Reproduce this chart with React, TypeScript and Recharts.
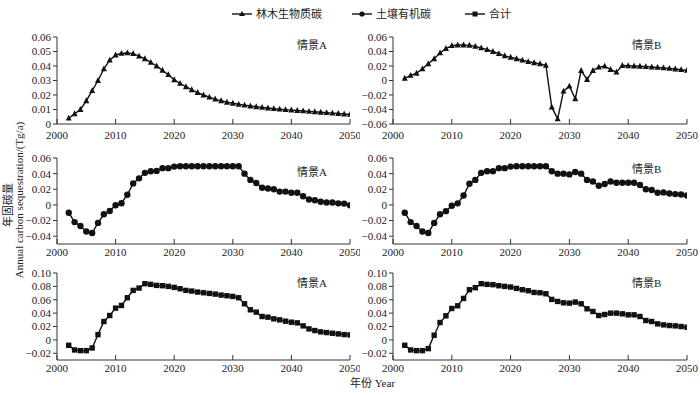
import React from 'react';
import { LineChart, Line, XAxis, YAxis } from 'recharts';

const years = [2002, 2003, 2004, 2005, 2006, 2007, 2008, 2009, 2010, 2011, 2012, 2013, 2014, 2015, 2016, 2017, 2018, 2019, 2020, 2021, 2022, 2023, 2024, 2025, 2026, 2027, 2028, 2029, 2030, 2031, 2032, 2033, 2034, 2035, 2036, 2037, 2038, 2039, 2040, 2041, 2042, 2043, 2044, 2045, 2046, 2047, 2048, 2049, 2050];

const xTicks = [2000, 2010, 2020, 2030, 2040, 2050];

const forestA = [0.004, 0.007, 0.010, 0.016, 0.023, 0.030, 0.038, 0.044, 0.0476, 0.0487, 0.049, 0.0485, 0.0468, 0.045, 0.0425, 0.040, 0.037, 0.034, 0.0305, 0.028, 0.0257, 0.0236, 0.0217, 0.020, 0.0185, 0.0172, 0.016, 0.015, 0.0143, 0.0136, 0.0130, 0.0124, 0.0119, 0.0114, 0.0110, 0.0106, 0.0102, 0.0099, 0.0096, 0.0093, 0.0090, 0.0087, 0.0084, 0.0081, 0.0078, 0.0075, 0.0072, 0.0069, 0.0066];

const forestB = [0.003, 0.007, 0.010, 0.016, 0.023, 0.030, 0.038, 0.044, 0.048, 0.049, 0.049, 0.0485, 0.047, 0.045, 0.0425, 0.040, 0.037, 0.034, 0.032, 0.030, 0.028, 0.026, 0.0245, 0.023, 0.021, -0.0368, -0.053, -0.0147, -0.0078, -0.0253, 0.0138, 0.0014, 0.0138, 0.0184, 0.0198, 0.0152, 0.0115, 0.0207, 0.0203, 0.0199, 0.0196, 0.0191, 0.0186, 0.0180, 0.0174, 0.0166, 0.0158, 0.0149, 0.0140];

const soilA = [-0.010, -0.022, -0.027, -0.034, -0.036, -0.023, -0.012, -0.0077, -0.0004, 0.0022, 0.013, 0.0275, 0.034, 0.041, 0.043, 0.0435, 0.047, 0.047, 0.049, 0.0495, 0.0495, 0.0495, 0.0495, 0.0495, 0.0495, 0.0495, 0.0495, 0.0495, 0.0495, 0.0495, 0.040, 0.032, 0.028, 0.022, 0.021, 0.020, 0.017, 0.017, 0.0155, 0.0155, 0.011, 0.007, 0.006, 0.004, 0.003, 0.003, 0.002, 0.0017, -0.0005];

const soilB = [-0.010, -0.022, -0.027, -0.034, -0.036, -0.023, -0.012, -0.008, -0.001, 0.002, 0.012, 0.027, 0.032, 0.041, 0.043, 0.043, 0.047, 0.047, 0.049, 0.0495, 0.0495, 0.0495, 0.0495, 0.0495, 0.0495, 0.043, 0.040, 0.040, 0.039, 0.042, 0.040, 0.032, 0.030, 0.0245, 0.0267, 0.030, 0.0284, 0.0284, 0.0284, 0.0284, 0.0254, 0.020, 0.019, 0.0155, 0.016, 0.0146, 0.0138, 0.0133, 0.012];

const totalA = [-0.008, -0.015, -0.016, -0.016, -0.012, 0.008, 0.0275, 0.0365, 0.0475, 0.0515, 0.063, 0.074, 0.0775, 0.084, 0.083, 0.0815, 0.081, 0.080, 0.0785, 0.0765, 0.074, 0.073, 0.0715, 0.0705, 0.0695, 0.0685, 0.067, 0.066, 0.065, 0.063, 0.054, 0.045, 0.0415, 0.035, 0.034, 0.0315, 0.030, 0.028, 0.0265, 0.0255, 0.021, 0.0165, 0.014, 0.012, 0.011, 0.010, 0.009, 0.008, 0.0075];

const totalB = [-0.008, -0.015, -0.016, -0.016, -0.013, 0.007, 0.026, 0.036, 0.047, 0.051, 0.062, 0.075, 0.078, 0.084, 0.083, 0.0825, 0.081, 0.080, 0.079, 0.077, 0.075, 0.0735, 0.071, 0.0705, 0.069, 0.0605, 0.0575, 0.0555, 0.055, 0.0565, 0.054, 0.0465, 0.0425, 0.0365, 0.038, 0.040, 0.040, 0.039, 0.0375, 0.0375, 0.035, 0.029, 0.0275, 0.024, 0.0225, 0.0215, 0.021, 0.020, 0.019];

const seriesNames = ['林木生物质碳', '土壤有机碳', '合计'];
const scenarioLabels = ['情景A', '情景B'];
const yTicksForestA = [0, 0.01, 0.02, 0.03, 0.04, 0.05, 0.06];
const yTicksForestB = [-0.06, -0.04, -0.02, 0, 0.02, 0.04, 0.06];
const yTicksSoil = [-0.04, -0.02, 0, 0.02, 0.04, 0.06];
const yTicksTotal = [-0.02, 0, 0.02, 0.04, 0.06, 0.08, 0.10];

const FONT = '"Liberation Serif", "Times New Roman", "Noto Sans CJK SC", serif';
const INK = '#111';
const AXIS = '#333';

const build = (vals: number[]) => years.map((y, i) => ({ year: y, v: vals[i] }));

const fmt = (v: number) => {
  if (Math.abs(v) < 1e-9) return '0';
  const s = Math.abs(v).toFixed(2);
  return v < 0 ? '\u2212' + s : s;
};

const triDot = (p: any) => {
  const { cx, cy, index } = p;
  if (cx == null || cy == null) return <g key={index} />;
  const s = 3;
  return <polygon key={index} points={`${cx},${cy - s - 0.5} ${cx - s},${cy + s * 0.8} ${cx + s},${cy + s * 0.8}`} fill={INK} />;
};
const circDot = (p: any) => {
  const { cx, cy, index } = p;
  if (cx == null || cy == null) return <g key={index} />;
  return <circle key={index} cx={cx} cy={cy} r={3.2} fill={INK} />;
};
const sqDot = (p: any) => {
  const { cx, cy, index } = p;
  if (cx == null || cy == null) return <g key={index} />;
  return <rect key={index} x={cx - 2.7} y={cy - 2.7} width={5.4} height={5.4} fill={INK} />;
};

type PanelProps = {
  vals: number[];
  col: 0 | 1;
  plotTop: number;
  plotH: number;
  domain: [number, number];
  ticks: number[];
  dot: (p: any) => any;
  xLabelGap: number;
};

function Panel({ vals, col, plotTop, plotH, domain, ticks, dot, xLabelGap }: PanelProps) {
  const chartLeft = col === 0 ? 0 : 340;
  const yW = col === 0 ? 57 : 53;
  const mRight = col === 0 ? 10 : 13;
  const mTop = 5;
  const xH = 25;
  const h = mTop + plotH + xH;
  return (
    <div style={{ position: 'absolute', left: chartLeft, top: plotTop - mTop, width: 360, height: h }}>
      <LineChart width={360} height={h} data={build(vals)} margin={{ top: mTop, right: mRight, bottom: 0, left: 0 }}>
        <XAxis
          dataKey="year"
          type="number"
          domain={[2000, 2050]}
          ticks={xTicks}
          allowDataOverflow
          height={xH}
          tickSize={-5}
          tickMargin={xLabelGap}
          axisLine={{ stroke: AXIS, strokeWidth: 1 }}
          tickLine={{ stroke: AXIS, strokeWidth: 1 }}
          tick={{ fill: '#222', fontSize: 11, fontFamily: FONT }}
          interval={0}
        />
        <YAxis
          type="number"
          domain={domain}
          ticks={ticks}
          allowDataOverflow
          width={yW}
          tickSize={4}
          tickMargin={2}
          tickFormatter={fmt}
          axisLine={{ stroke: AXIS, strokeWidth: 1 }}
          tickLine={{ stroke: AXIS, strokeWidth: 1 }}
          tick={{ fill: '#222', fontSize: 11, fontFamily: FONT }}
          interval={0}
        />
        <Line
          type="linear"
          dataKey="v"
          stroke={INK}
          strokeWidth={1.4}
          dot={dot}
          activeDot={false}
          isAnimationActive={false}
        />
      </LineChart>
    </div>
  );
}

const LegendItem = ({ x, name, shape }: { x: number; name: string; shape: 'tri' | 'circ' | 'sq' }) => {
  const cy = 14;
  return (
    <g>
      <line x1={x} y1={cy} x2={x + 20} y2={cy} stroke={INK} strokeWidth={1.4} />
      {shape === 'tri' && <polygon points={`${x + 10},${cy - 3} ${x + 7},${cy + 2} ${x + 13},${cy + 2}`} fill={INK} />}
      {shape === 'circ' && <circle cx={x + 10} cy={cy} r={2.6} fill={INK} />}
      {shape === 'sq' && <rect x={x + 7.5} y={cy - 2.5} width={5} height={5} fill={INK} />}
      <text x={x + 24} y={cy + 4} fontSize={11} fontFamily={FONT} fill="#222">{name}</text>
    </g>
  );
};

const labelStyle = (left: number, top: number): React.CSSProperties => ({
  position: 'absolute', left, top, fontSize: 11, fontFamily: FONT, color: '#222', lineHeight: '12px', whiteSpace: 'nowrap',
});

export default function App() {
  return (
    <div style={{ position: 'absolute', left: 0, top: 0, width: 700, height: 395, background: '#fff', overflow: 'hidden' }}>
      <svg width={700} height={28} style={{ position: 'absolute', left: 0, top: 0 }}>
        <LegendItem x={232} name={seriesNames[0]} shape="tri" />
        <LegendItem x={352} name={seriesNames[1]} shape="circ" />
        <LegendItem x={465} name={seriesNames[2]} shape="sq" />
      </svg>

      <Panel vals={forestA} col={0} plotTop={37} plotH={87} domain={[0, 0.06]} ticks={yTicksForestA} dot={triDot} xLabelGap={12} />
      <Panel vals={forestB} col={1} plotTop={37} plotH={87} domain={[-0.06, 0.06]} ticks={yTicksForestB} dot={triDot} xLabelGap={12} />
      <Panel vals={soilA} col={0} plotTop={158} plotH={86} domain={[-0.05, 0.06]} ticks={yTicksSoil} dot={circDot} xLabelGap={9} />
      <Panel vals={soilB} col={1} plotTop={158} plotH={86} domain={[-0.05, 0.06]} ticks={yTicksSoil} dot={circDot} xLabelGap={9} />
      <Panel vals={totalA} col={0} plotTop={273} plotH={87} domain={[-0.03, 0.1]} ticks={yTicksTotal} dot={sqDot} xLabelGap={9} />
      <Panel vals={totalB} col={1} plotTop={273} plotH={87} domain={[-0.03, 0.1]} ticks={yTicksTotal} dot={sqDot} xLabelGap={9} />

      <div style={labelStyle(297, 39)}>{scenarioLabels[0]}</div>
      <div style={labelStyle(632, 39)}>{scenarioLabels[1]}</div>
      <div style={labelStyle(297, 166)}>{scenarioLabels[0]}</div>
      <div style={labelStyle(632, 163)}>{scenarioLabels[1]}</div>
      <div style={labelStyle(297, 277)}>{scenarioLabels[0]}</div>
      <div style={labelStyle(632, 277)}>{scenarioLabels[1]}</div>

      <div style={{ position: 'absolute', left: 0, top: 0, width: 30, height: 395 }}>
        <svg width={30} height={395}>
          <text transform="translate(12,205) rotate(-90)" textAnchor="middle" fontSize={11} fontFamily={FONT} fill="#222">年固碳量</text>
          <text transform="translate(23,200) rotate(-90)" textAnchor="middle" fontSize={11} fontFamily={FONT} fill="#222">Annual carbon sequestration/(Tg/a)</text>
        </svg>
      </div>

      <div style={{ position: 'absolute', left: 0, top: 374, width: 745, textAlign: 'center', fontSize: 11, fontFamily: FONT, color: '#222' }}>年份 Year</div>
    </div>
  );
}
